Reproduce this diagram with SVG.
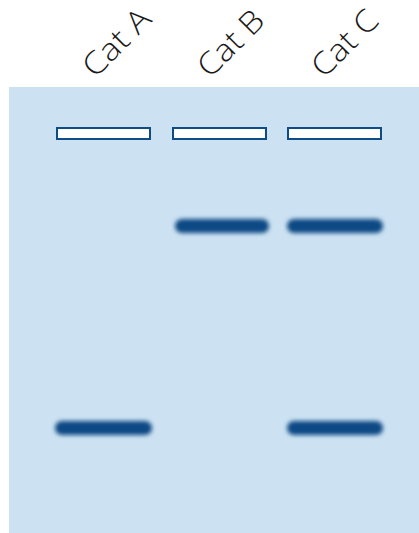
<svg xmlns="http://www.w3.org/2000/svg" width="419" height="533" viewBox="0 0 419 533">
  <defs>
    <filter id="soft" x="-20%" y="-80%" width="140%" height="260%">
      <feGaussianBlur stdDeviation="2"/>
    </filter>
    <style>
      .gel { fill: #cce1f2; }
      .well { fill: #ffffff; stroke: #0d4c84; stroke-width: 2; }
      .band { fill: #0b4a84; filter: url(#soft); }
      .label { font-family: "Open Sans", "Liberation Sans", sans-serif; font-weight: 300; font-size: 31px; fill: #1a1a1a; }
    </style>
  </defs>

  <!-- gel slab -->
  <rect class="gel" x="9" y="87" width="410" height="446"/>

  <!-- lane labels -->
  <g id="label-cat-a"><text class="label" transform="translate(95,79) rotate(-45)" textLength="82" lengthAdjust="spacingAndGlyphs">Cat A</text></g>
  <g id="label-cat-b"><text class="label" transform="translate(210,79) rotate(-45)" textLength="80" lengthAdjust="spacingAndGlyphs">Cat B</text></g>
  <g id="label-cat-c"><text class="label" transform="translate(324,79) rotate(-45)" textLength="80" lengthAdjust="spacingAndGlyphs">Cat C</text></g>

  <!-- loading wells -->
  <g id="well-a"><rect class="well" x="57" y="128" width="93" height="11"/></g>
  <g id="well-b"><rect class="well" x="173" y="128" width="93" height="11"/></g>
  <g id="well-c"><rect class="well" x="288" y="128" width="93" height="11"/></g>

  <!-- DNA bands -->
  <g id="band-b-upper"><rect class="band" x="175" y="219" width="94" height="14" rx="7"/></g>
  <g id="band-c-upper"><rect class="band" x="287" y="219" width="96" height="14" rx="7"/></g>
  <g id="band-a-lower"><rect class="band" x="55" y="421" width="97" height="14" rx="7"/></g>
  <g id="band-c-lower"><rect class="band" x="287" y="421" width="96" height="14" rx="7"/></g>
</svg>
